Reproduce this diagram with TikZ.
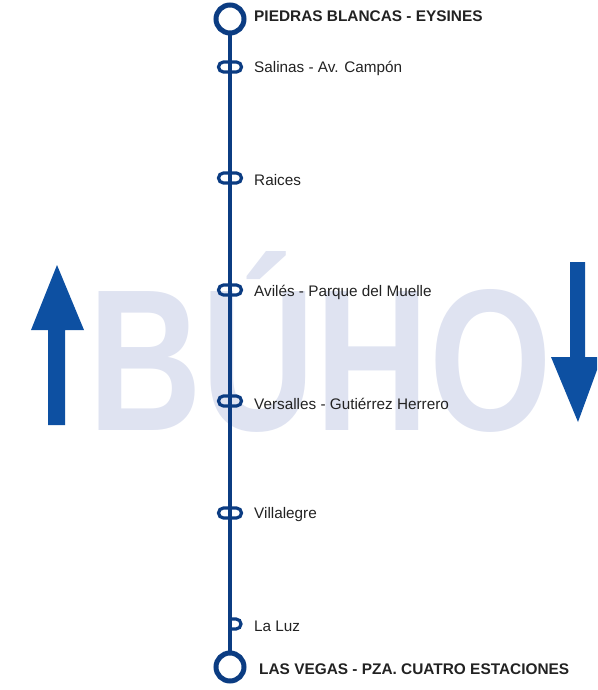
\documentclass[tikz,border=0pt]{standalone}
\usepackage{fontspec}
\setmainfont{Liberation Sans}
\usetikzlibrary{shapes.misc}
\definecolor{navy}{HTML}{0B3C82}
\definecolor{arrowblue}{HTML}{0D50A2}
\definecolor{ghost}{HTML}{DFE3F1}
\definecolor{txt}{HTML}{222222}
\tikzset{
  stopbox/.style={draw=navy, line width=3.2pt, rounded rectangle, minimum width=23pt, minimum height=10pt, inner sep=0pt},
  termcircle/.style={draw=navy, line width=5pt, circle, fill=white, minimum size=28pt, inner sep=0pt},
  stoplabel/.style={anchor=west, text=txt, font=\fontsize{15.3}{15.3}\selectfont, inner sep=0pt},
  termlabel/.style={anchor=west, text=txt, font=\fontsize{15.4}{15.4}\selectfont\bfseries, inner sep=0pt},
  bigarrow/.style={fill=arrowblue, draw=none}
}
\begin{document}
\begin{tikzpicture}[x=1pt,y=-1pt]
\useasboundingbox (0,0) rectangle (597,690);
% ghost text
\node[anchor=base, inner sep=0pt, text=ghost, font=\fontsize{202}{202}\selectfont\bfseries] (buho) at (320,430) {\scalebox{0.78}[1]{BÚHO}};
% arrows
\fill[bigarrow] (48,425) -- (65,425) -- (65,330) -- (84,330) -- (57,265) -- (31,330) -- (48,330) -- cycle;
\fill[bigarrow] (570,262) -- (585,262) -- (585,357) -- (597,357) -- (597,370) -- (578,422) -- (551,357) -- (570,357) -- cycle;
% line
\coordinate (topc) at (230,19);
\coordinate (botc) at (230,667);
\draw[navy, line width=4.5pt] (topc) -- (botc);
\node[termcircle] (top) at (topc) {};
\node[termcircle] (bot) at (botc) {};
% stops
\node[stopbox] (s1) at (230,67) {};
\node[stopbox] (s2) at (230,178) {};
\node[stopbox] (s3) at (230,290) {};
\node[stopbox] (s4) at (230,401) {};
\node[stopbox] (s5) at (230,513) {};
\coordinate (s6) at (230,624);
\draw[navy, line width=3.2pt] (230,619) -- (236,619) arc[start angle=-90, end angle=90, radius=5] -- (230,629);
% labels
\node[termlabel] (l0) at (254,16) {PIEDRAS BLANCAS - EYSINES};
\node[stoplabel] (l1) at (254,68.5) {Salinas - Av. Campón};
\node[stoplabel] (l2) at (254,180) {Raices};
\node[stoplabel] (l3) at (254,292) {Avilés - Parque del Muelle};
\node[stoplabel] (l4) at (254,403.5) {Versalles - Gutiérrez Herrero};
\node[stoplabel] (l5) at (254,515) {Villalegre};
\node[stoplabel] (l6) at (254,626) {La Luz};
\node[termlabel] (l7) at (259,669) {LAS VEGAS - PZA. CUATRO ESTACIONES};
\end{tikzpicture}
\end{document}
